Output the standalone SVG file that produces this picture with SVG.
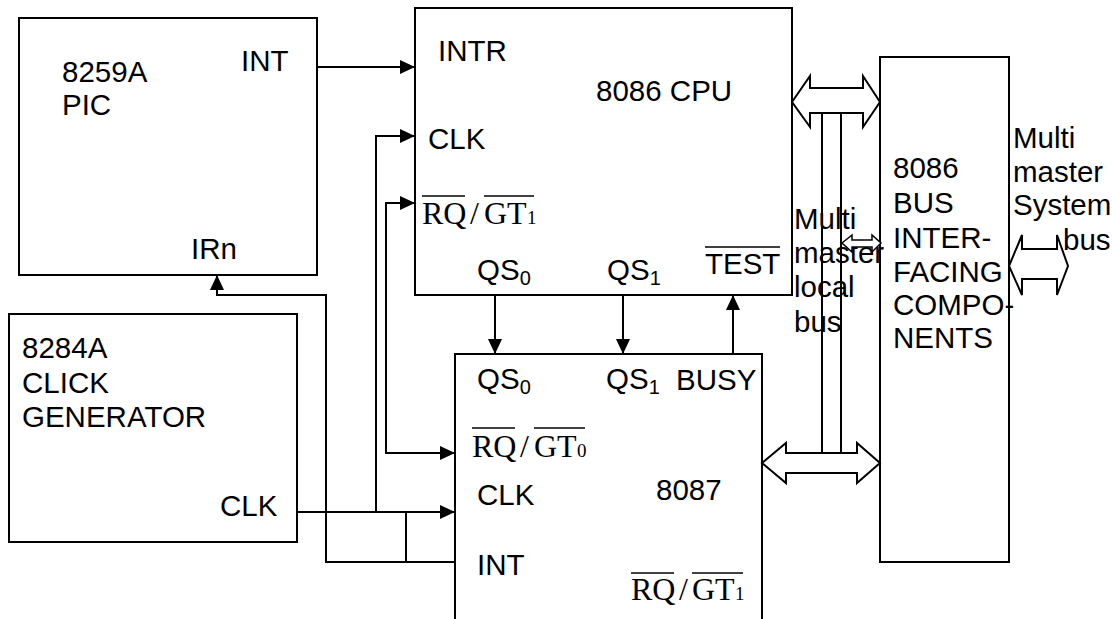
<svg xmlns="http://www.w3.org/2000/svg" width="1112" height="619" viewBox="0 0 1112 619">
<style>
.box{fill:#fff;stroke:#000;stroke-width:2}
.ln{fill:none;stroke:#000;stroke-width:2}
.bus{fill:#fff;stroke:#000;stroke-width:2;stroke-linejoin:miter}
.t{font-family:"Liberation Sans",Arial,sans-serif;font-size:29.5px;fill:#000}
.sub{font-family:"Liberation Sans",Arial,sans-serif;font-size:20px;fill:#000}
.s{font-family:"Liberation Serif","Times New Roman",serif;font-size:32px;fill:#000}
.ss{font-family:"Liberation Serif","Times New Roman",serif;font-size:19px;fill:#000}
.ov{stroke:#000;stroke-width:1.5}
</style>
<defs>
<marker id="ah" markerWidth="15" markerHeight="14" refX="15" refY="7" orient="auto-start-reverse" markerUnits="userSpaceOnUse">
<path d="M0,0 L15,7 L0,14 z" fill="#000"/>
</marker>
</defs>
<rect width="1112" height="619" fill="#fff"/>

<g id="pic8259">
<rect class="box" x="19" y="18" width="298" height="257"/>
<text class="t" x="62" y="82">8259A</text>
<text class="t" x="62" y="115">PIC</text>
<text class="t" x="241" y="71">INT</text>
<text class="t" x="191" y="259">IRn</text>
</g>

<g id="cpu8086">
<rect class="box" x="415" y="8" width="377" height="287"/>
<text class="t" x="438" y="61">INTR</text>
<text class="t" x="596" y="101">8086 CPU</text>
<text class="t" x="428" y="149">CLK</text>
<text class="s" x="422" y="224">RQ</text>
<text class="s" x="470" y="224">/</text>
<text class="s" x="484" y="224">GT</text>
<text class="ss" x="527" y="224">1</text>
<line class="ov" x1="422" y1="196" x2="465" y2="196"/>
<line class="ov" x1="484" y1="196" x2="534" y2="196"/>
<text class="t" x="477" y="280">QS<tspan class="sub" dy="5">0</tspan></text>
<text class="t" x="607" y="280">QS<tspan class="sub" dy="5">1</tspan></text>
<text class="t" x="705" y="274">TEST</text>
<line class="ov" x1="705" y1="247" x2="780" y2="247"/>
</g>

<g id="clk8284">
<rect class="box" x="9" y="314" width="288" height="228"/>
<text class="t" x="22" y="358">8284A</text>
<text class="t" x="22" y="393">CLICK</text>
<text class="t" x="22" y="427">GENERATOR</text>
<text class="t" x="220" y="516">CLK</text>
</g>

<g id="fpu8087">
<rect class="box" x="455" y="354" width="307" height="275"/>
<text class="t" x="477" y="389">QS<tspan class="sub" dy="5">0</tspan></text>
<text class="t" x="606" y="389">QS<tspan class="sub" dy="5">1</tspan></text>
<text class="t" x="676" y="390">BUSY</text>
<text class="s" x="472" y="457">RQ</text>
<text class="s" x="520" y="457">/</text>
<text class="s" x="534" y="457">GT</text>
<text class="ss" x="577" y="457">0</text>
<line class="ov" x1="472" y1="428" x2="515" y2="428"/>
<line class="ov" x1="534" y1="428" x2="585" y2="428"/>
<text class="t" x="477" y="505">CLK</text>
<text class="t" x="656" y="500">8087</text>
<text class="t" x="477" y="575">INT</text>
<text class="s" x="631" y="600">RQ</text>
<text class="s" x="679" y="600">/</text>
<text class="s" x="692" y="600">GT</text>
<text class="ss" x="735" y="600">1</text>
<line class="ov" x1="631" y1="573" x2="674" y2="573"/>
<line class="ov" x1="692" y1="573" x2="743" y2="573"/>
</g>

<g id="busif">
<rect class="box" x="880" y="57" width="129" height="505"/>
<text class="t" x="893" y="178">8086</text>
<text class="t" x="893" y="213">BUS</text>
<text class="t" x="893" y="248">INTER-</text>
<text class="t" x="893" y="282">FACING</text>
<text class="t" x="893" y="315">COMPO-</text>
<text class="t" x="893" y="348">NENTS</text>
</g>

<g id="labels">
<text class="t" x="794" y="229">Multi</text>
<text class="t" x="794" y="263">master</text>
<text class="t" x="794" y="297">local</text>
<text class="t" x="794" y="332">bus</text>
<text class="t" x="1013" y="148">Multi</text>
<text class="t" x="1013" y="182">master</text>
<text class="t" x="1013" y="215">System</text>
<text class="t" x="1063" y="250">bus</text>
</g>

<g id="connectors">
<path class="ln" d="M317,67 H415" marker-end="url(#ah)"/>
<path class="ln" d="M376,512 V136 H415" marker-end="url(#ah)"/>
<path class="ln" d="M415,203 H386 V453 H455" marker-start="url(#ah)" marker-end="url(#ah)"/>
<path class="ln" d="M297,512 H455" marker-end="url(#ah)"/>
<path class="ln" d="M455,562 H326 V295 H217 V275" marker-end="url(#ah)"/>
<path class="ln" d="M406,512 V562"/>
<path class="ln" d="M495,295 V354" marker-end="url(#ah)"/>
<path class="ln" d="M623,295 V354" marker-end="url(#ah)"/>
<path class="ln" d="M733,354 V295" marker-end="url(#ah)"/>
<polygon class="bus" points="792,102 810,76 810,88 863,88 863,76 880,102 863,127 863,113 810,113 810,127"/>
<polygon class="bus" points="762,463 786,443 786,453 857,453 857,443 880,463 857,483 857,473 786,473 786,483"/>
<path class="ln" d="M822,113 V453 M841,113 V453"/>
<polygon class="bus" style="stroke-width:1.5" points="842,243 852,235 852,240 872,240 872,235 881,243 872,252 872,247 852,247 852,252"/>
<polygon class="bus" points="1009,266 1022,235 1022,249 1057,249 1057,235 1068,266 1057,295 1057,279 1022,279 1022,295"/>
</g>
</svg>
